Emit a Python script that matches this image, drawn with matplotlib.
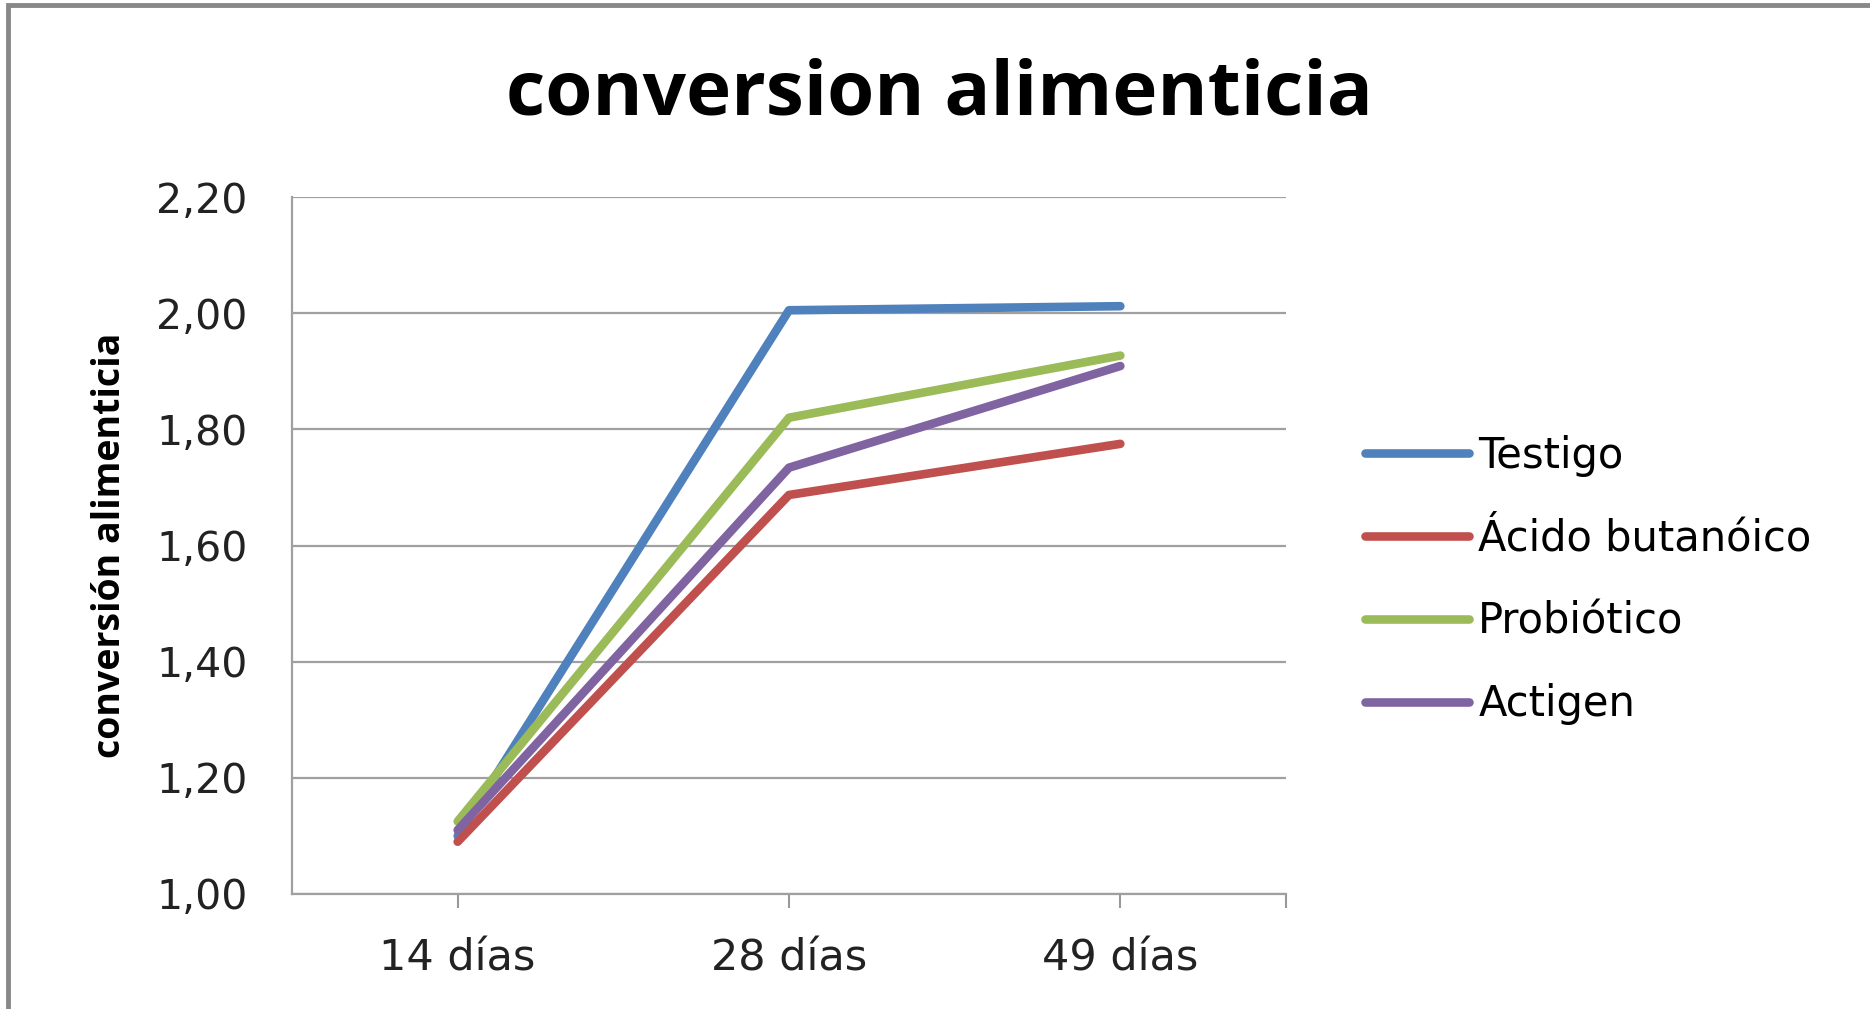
import matplotlib.pyplot as plt
from matplotlib.patches import Rectangle

# data
categories = ['14 días', '28 días', '49 días']
testigo = [1.10, 2.005, 2.012]
acido = [1.09, 1.687, 1.775]
probiotico = [1.125, 1.82, 1.927]
actigen = [1.11, 1.734, 1.909]

series_names = ['Testigo', 'Ácido butanóico', 'Probiótico', 'Actigen']
series_values = [testigo, acido, probiotico, actigen]
colors = ['#4F81BD', '#C0504D', '#9BBB59', '#8064A2']

y_ticks = [1.00, 1.20, 1.40, 1.60, 1.80, 2.00, 2.20]
y_tick_labels = ['1,00', '1,20', '1,40', '1,60', '1,80', '2,00', '2,20']

fig = plt.figure(figsize=(18.7, 10.09), dpi=100)
ax = fig.add_axes([292 / 1870, 1 - 894 / 1009, (1286 - 292) / 1870, (894 - 197) / 1009])

x = list(range(len(categories)))
for name, vals, c in zip(series_names, series_values, colors):
    ax.plot(x, vals, color=c, lw=6.2, label=name,
            solid_capstyle='round', solid_joinstyle='round', zorder=3)

ax.set_xlim(-0.5, 2.5)
ax.set_ylim(1.0, 2.2)
ax.set_yticks(y_ticks)
ax.set_yticklabels(y_tick_labels, fontsize=29.5, family='DejaVu Sans', color='#222222')
ax.set_xticks(x + [2.5])
ax.set_xticklabels(categories + [''], fontsize=31,
                   family=['Liberation Sans Narrow', 'DejaVu Sans'], color='#222222')
ax.tick_params(axis='x', length=10, width=1.5, color='#999999', pad=21)
ax.tick_params(axis='y', length=0, pad=32)
ax.grid(axis='y', color='#a0a0a0', lw=1.6, zorder=0)
for s in ['top', 'right']:
    ax.spines[s].set_visible(False)
for s in ['left', 'bottom']:
    ax.spines[s].set_color('#a0a0a0')
    ax.spines[s].set_linewidth(1.6)

fig.text(110 / 1870, 1 - 545 / 1009, 'conversión alimenticia', rotation=90,
         ha='center', va='center', fontsize=27, fontweight='bold',
         family=['Open Sans', 'DejaVu Sans'])

fig.text(939 / 1870, 1 - 95 / 1009, 'conversion alimenticia', ha='center', va='center',
         fontsize=55, fontweight='bold', family=['Open Sans', 'DejaVu Sans'])

leg = ax.legend(loc='center left', bbox_to_anchor=(1365 / 1870, 1 - 580 / 1009),
                bbox_transform=fig.transFigure, frameon=False,
                borderpad=0, borderaxespad=0,
                prop={'family': 'DejaVu Sans', 'size': 30},
                handlelength=2.5, handletextpad=0.22, labelspacing=0.98)

# outer chart frame
fig.patches.append(Rectangle((8 / 1870, -0.01), 1.1, 1 - 5 / 1009 + 0.01,
                             transform=fig.transFigure, fill=False,
                             edgecolor='#888888', lw=3.5))

fig.savefig('out.png', dpi=100)
